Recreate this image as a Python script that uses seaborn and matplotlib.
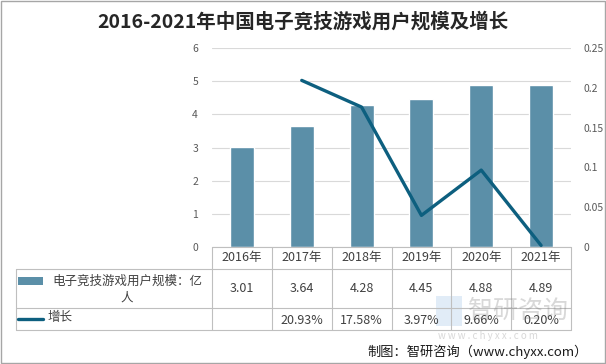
import numpy as np
import pandas as pd
import matplotlib
matplotlib.use('Agg')
import matplotlib.pyplot as plt
import seaborn as sns
from matplotlib.lines import Line2D
from matplotlib.patches import Rectangle

years = ['2016年', '2017年', '2018年', '2019年', '2020年', '2021年']
users = [3.01, 3.64, 4.28, 4.45, 4.88, 4.89]
growth = [np.nan, 0.2093, 0.1758, 0.0397, 0.0966, 0.0020]
growth_labels = ['', '20.93%', '17.58%', '3.97%', '9.66%', '0.20%']

bar_color = '#5B8FA8'
line_color = '#0D5F7F'
text_color = '#404040'
tick_color = '#595959'

sns.set_theme(style='white')
plt.rcParams['font.family'] = ['Noto Sans CJK SC', 'DejaVu Sans']

W, H = 606, 364
fig = plt.figure(figsize=(W / 100, H / 100), dpi=100)

def fx(x):
    return x / W

def fy(y):
    return 1 - y / H

left, right, top, bottom = 212, 571, 48, 247
ax = fig.add_axes([fx(left), fy(bottom), fx(right - left), (bottom - top) / H])

df = pd.DataFrame({'year': years, 'users': users})
sns.barplot(data=df, x='year', y='users', color=bar_color, width=0.4,
            saturation=1, ax=ax)
ax.set_ylim(0, 6)
ax.set_xlim(-0.5, 5.5)
ax.set_yticks(range(0, 7))
ax.grid(axis='y', color='#D9D9D9', linewidth=0.8)
ax.set_axisbelow(True)
ax.set_xlabel('')
ax.set_ylabel('')
ax.set_xticks([])
for s in ax.spines.values():
    s.set_visible(False)
ax.tick_params(axis='y', length=0, labelsize=7.5, labelcolor=tick_color, pad=10)

ax2 = ax.twinx()
sns.lineplot(x=np.arange(1, 6), y=growth[1:], color=line_color, linewidth=2.4, ax=ax2)
ax2.set_ylim(0, 0.25)
ax2.set_yticks([0, 0.05, 0.1, 0.15, 0.2, 0.25])
ax2.set_yticklabels(['0', '0.05', '0.1', '0.15', '0.2', '0.25'])
for s in ax2.spines.values():
    s.set_visible(False)
ax2.tick_params(axis='y', length=0, labelsize=7.5, labelcolor=tick_color, pad=9)
ax2.set_xlim(-0.5, 5.5)

# data table below the chart
grid_c = '#BFBFBF'
col_w = (right - left) / 6
rows_y = [247, 269, 308, 330]
tleft = 16
for y in rows_y[1:]:
    fig.add_artist(Line2D([fx(tleft), fx(right)], [fy(y), fy(y)], color=grid_c, lw=0.8))
fig.add_artist(Line2D([fx(left), fx(right)], [fy(247), fy(247)], color=grid_c, lw=0.8))
fig.add_artist(Line2D([fx(tleft), fx(tleft)], [fy(269), fy(330)], color=grid_c, lw=0.8))
for i in range(7):
    x = left + i * col_w
    fig.add_artist(Line2D([fx(x), fx(x)], [fy(247), fy(330)], color=grid_c, lw=0.8))

fs = 9
for i, yr in enumerate(years):
    cx = left + (i + 0.5) * col_w
    fig.text(fx(cx), fy(258), yr, ha='center', va='center', fontsize=fs, color=text_color)
    fig.text(fx(cx), fy(289), f'{users[i]:.2f}', ha='center', va='center',
             fontsize=fs, color=text_color)
    fig.text(fx(cx), fy(320), growth_labels[i], ha='center', va='center',
             fontsize=fs, color=text_color)

fig.add_artist(Rectangle((fx(18), fy(285)), fx(25), 8 / H, color=bar_color, lw=0))
fig.text(fx(127), fy(281), '电子竞技游戏用户规模：亿', ha='center', va='center',
         fontsize=fs, color=text_color)
fig.text(fx(127), fy(298), '人', ha='center', va='center', fontsize=fs, color=text_color)
fig.add_artist(Line2D([fx(18), fx(43)], [fy(319), fy(319)], color=line_color, lw=2.4))
fig.text(fx(48), fy(317), '增长', ha='left', va='center', fontsize=fs, color=text_color)

# title, source and watermark
fig.text(0.5, fy(22), '2016-2021年中国电子竞技游戏用户规模及增长', ha='center', va='center',
         fontsize=14, fontweight='bold', color='#262626')
fig.text(fx(588), fy(352), '制图：智研咨询（www.chyxx.com）', ha='right', va='center',
         fontsize=9.5, color='#1a1a1a')
fig.text(fx(468), fy(311), '智研咨询', ha='left', va='center', fontsize=18,
         color='#7F7F7F', alpha=0.3)
fig.text(fx(438), fy(336), 'w w w . c h y x x . c o m', ha='left', va='center',
         fontsize=7, color='#7F7F7F', alpha=0.3)
fig.add_artist(Rectangle((fx(436), fy(326)), fx(26), 30 / H, color='#9DC3E6', alpha=0.3, lw=0))

fig.add_artist(Rectangle((0.001, 0.002), 0.997, 0.996, fill=False, edgecolor='#A6A6A6', lw=1))

fig.savefig('out.png', dpi=100)
